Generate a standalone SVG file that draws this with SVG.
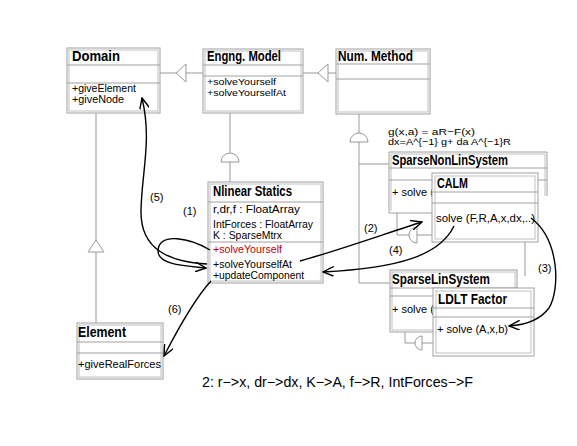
<svg xmlns="http://www.w3.org/2000/svg" width="577" height="446" viewBox="0 0 577 446">
<defs>
<style>
.bx{fill:#fff;stroke:#a0a0a0;stroke-width:1}
.in{fill:none;stroke:#c0c0c0;stroke-width:1}
.sep{stroke:#a0a0a0;stroke-width:1}
.gl{fill:none;stroke:#999;stroke-width:1}
.h{font-family:"Liberation Sans",Arial,sans-serif;font-weight:bold;font-size:14px;fill:#000}
.m{font-family:"Liberation Sans",Arial,sans-serif;font-size:11px;fill:#000}
.s{font-family:"Liberation Sans",Arial,sans-serif;font-size:9.5px;fill:#000}
.lb{font-family:"Liberation Sans",Arial,sans-serif;font-size:11px;fill:#000}
.cv{fill:none;stroke:#000;stroke-width:1.4}
</style>
<marker id="ah" viewBox="0 0 12 10" refX="11" refY="5" markerWidth="12" markerHeight="10" markerUnits="userSpaceOnUse" orient="auto">
<path d="M0,0 L11,5 L0,10" fill="none" stroke="#000" stroke-width="1.4"/>
</marker>
</defs>
<rect width="577" height="446" fill="#fff"/>

<g id="generalizations">
<line class="gl" x1="160" y1="73" x2="176" y2="73"/>
<path class="gl" d="M176,73 L186,64 L186,82 Z"/>
<line class="gl" x1="186" y1="73" x2="203" y2="73"/>
<line class="gl" x1="303" y1="73" x2="318" y2="73"/>
<path class="gl" d="M318,73 L328,64 L328,82 Z"/>
<line class="gl" x1="328" y1="73" x2="336" y2="73"/>
<line class="gl" x1="96" y1="113" x2="96" y2="240"/>
<path class="gl" d="M96,240 L88,252 L104,252 Z"/>
<line class="gl" x1="96" y1="252" x2="96" y2="323"/>
<line class="gl" x1="230" y1="113" x2="230" y2="153"/>
<path class="gl" d="M221,162 A9,9 0 0 1 239,162 Z"/>
<line class="gl" x1="230" y1="162" x2="230" y2="182"/>
<line class="gl" x1="359" y1="114" x2="359" y2="133"/>
<path class="gl" d="M350,142 A9,9 0 0 1 368,142 Z"/>
<line class="gl" x1="359" y1="142" x2="359" y2="283"/>
<line class="gl" x1="359" y1="164" x2="389" y2="164"/>
<line class="gl" x1="359" y1="283" x2="390" y2="283"/>
<path class="gl" d="M397,213 L397,235 L409,235"/>
<path class="gl" d="M417,227 A8,8 0 0 0 417,243 Z"/>
<line class="gl" x1="417" y1="235" x2="432" y2="235"/>
<path class="gl" d="M405,332 L405,343 L415,343"/>
<path class="gl" d="M422,336 A7,7 0 0 0 422,350 Z"/>
<line class="gl" x1="422" y1="343" x2="433" y2="343"/>
<line class="gl" x1="525" y1="242" x2="525" y2="276"/>
</g>

<g id="domain">
<rect class="bx" x="67" y="48" width="93" height="65"/>
<rect class="in" x="69" y="50" width="89" height="61"/>
<line class="sep" x1="67" y1="65" x2="160" y2="65"/>
<line class="sep" x1="67" y1="83" x2="160" y2="83"/>
<text class="h" x="72" y="61" textLength="48" lengthAdjust="spacingAndGlyphs">Domain</text>
<text class="m" x="72" y="92" textLength="64" lengthAdjust="spacingAndGlyphs">+giveElement</text>
<text class="m" x="72" y="103" textLength="52" lengthAdjust="spacingAndGlyphs">+giveNode</text>
</g>

<g id="engng-model">
<rect class="bx" x="203" y="49" width="100" height="64"/>
<rect class="in" x="205" y="51" width="96" height="60"/>
<line class="sep" x1="203" y1="65" x2="303" y2="65"/>
<line class="sep" x1="203" y1="76" x2="303" y2="76"/>
<text class="h" x="207" y="61" textLength="74" lengthAdjust="spacingAndGlyphs">Engng. Model</text>
<text class="s" x="207" y="85" textLength="69" lengthAdjust="spacingAndGlyphs">+solveYourself</text>
<text class="s" x="207" y="96" textLength="79" lengthAdjust="spacingAndGlyphs">+solveYourselfAt</text>
</g>

<g id="num-method">
<rect class="bx" x="336" y="49" width="94" height="65"/>
<rect class="in" x="338" y="51" width="90" height="61"/>
<line class="sep" x1="336" y1="64" x2="430" y2="64"/>
<line class="sep" x1="336" y1="79" x2="430" y2="79"/>
<text class="h" x="338" y="61" textLength="75" lengthAdjust="spacingAndGlyphs">Num. Method</text>
</g>

<g id="formula">
<text class="s" x="388" y="135" textLength="87" lengthAdjust="spacingAndGlyphs">g(x,a) = aR−F(x)</text>
<text class="s" x="388" y="145" textLength="123" lengthAdjust="spacingAndGlyphs">dx=A^{−1} g+ da A^{−1}R</text>
</g>

<g id="sparse-nonlin-system">
<path class="bx" d="M389,213 L389,152 L547,152 L547,196"/>
<path class="in" d="M391,211 L391,154 L545,154 L545,196"/>
<line class="sep" x1="389" y1="168" x2="547" y2="168"/>
<line class="sep" x1="389" y1="180" x2="547" y2="180"/>
<line class="sep" x1="389" y1="213" x2="432" y2="213"/>
<text class="h" x="392" y="165" textLength="116" lengthAdjust="spacingAndGlyphs">SparseNonLinSystem</text>
<text class="m" x="392" y="196">+ solve (</text>
</g>

<g id="calm">
<rect class="bx" x="432" y="173" width="106" height="69"/>
<rect class="in" x="435" y="176" width="100" height="63"/>
<line class="sep" x1="432" y1="192" x2="538" y2="192"/>
<line class="sep" x1="432" y1="203" x2="538" y2="203"/>
<text class="h" x="437" y="188" textLength="31" lengthAdjust="spacingAndGlyphs">CALM</text>
<text class="m" x="436" y="222" textLength="99" lengthAdjust="spacingAndGlyphs">solve (F,R,A,x,dx,..)</text>
</g>

<g id="sparse-lin-system">
<rect class="bx" x="390" y="270" width="127" height="62"/>
<rect class="in" x="392" y="272" width="123" height="58"/>
<line class="sep" x1="390" y1="288" x2="517" y2="288"/>
<line class="sep" x1="390" y1="296" x2="517" y2="296"/>
<text class="h" x="392" y="284" textLength="98" lengthAdjust="spacingAndGlyphs">SparseLinSystem</text>
<text class="m" x="392" y="313">+ solve (</text>
</g>

<g id="ldlt-factor">
<rect class="bx" x="433" y="288" width="101" height="68"/>
<rect class="in" x="436" y="291" width="95" height="62"/>
<line class="sep" x1="433" y1="308" x2="534" y2="308"/>
<line class="sep" x1="433" y1="317" x2="534" y2="317"/>
<text class="h" x="438" y="304" textLength="69" lengthAdjust="spacingAndGlyphs">LDLT Factor</text>
<text class="m" x="437" y="333" textLength="71" lengthAdjust="spacingAndGlyphs">+ solve (A,x,b)</text>
</g>

<g id="nlinear-statics">
<rect class="bx" x="208" y="182" width="115" height="101"/>
<rect class="in" x="210" y="184" width="111" height="97"/>
<line class="sep" x1="208" y1="202" x2="323" y2="202"/>
<line class="sep" x1="208" y1="242" x2="323" y2="242"/>
<text class="h" x="213" y="196" textLength="79" lengthAdjust="spacingAndGlyphs">Nlinear Statics</text>
<text class="m" x="213" y="213" textLength="87" lengthAdjust="spacingAndGlyphs">r,dr,f : FloatArray</text>
<text class="m" x="213" y="228" textLength="100" lengthAdjust="spacingAndGlyphs">IntForces : FloatArray</text>
<text class="m" x="213" y="239" textLength="69" lengthAdjust="spacingAndGlyphs">K : SparseMtrx</text>
<text class="m" x="213" y="253" textLength="69" lengthAdjust="spacingAndGlyphs" style="fill:#c00000">+solveYourself</text>
<text class="m" x="213" y="268" textLength="79" lengthAdjust="spacingAndGlyphs">+solveYourselfAt</text>
<text class="m" x="213" y="279" textLength="91" lengthAdjust="spacingAndGlyphs">+updateComponent</text>
</g>

<g id="element">
<rect class="bx" x="77" y="323" width="86" height="56"/>
<rect class="in" x="79" y="325" width="82" height="52"/>
<line class="sep" x1="77" y1="342" x2="163" y2="342"/>
<line class="sep" x1="77" y1="353" x2="163" y2="353"/>
<text class="h" x="78" y="337" textLength="48" lengthAdjust="spacingAndGlyphs">Element</text>
<text class="m" x="78" y="368" textLength="83" lengthAdjust="spacingAndGlyphs">+giveRealForces</text>
</g>

<g id="connectors">
<path class="cv" marker-end="url(#ah)" d="M210,250 C190,238 160,232 158,250 C157,265 185,266 206,268"/>
<path class="cv" marker-end="url(#ah)" d="M207,264 C170,262 140,250 141,210 C142,170 152,140 142,98"/>
<path class="cv" marker-end="url(#ah)" d="M211,281 C198,295 180,325 164,356"/>
<path class="cv" marker-end="url(#ah)" d="M300,261 C340,250 390,232 422,222"/>
<path class="cv" marker-end="url(#ah)" d="M454,226 C440,255 400,268 323,272"/>
<path class="cv" marker-end="url(#ah)" d="M531,218 C560,240 560,290 549,308 C540,320 525,325 509,326"/>
<text class="lb" x="183" y="215">(1)</text>
<text class="lb" x="150" y="201">(5)</text>
<text class="lb" x="168" y="313">(6)</text>
<text class="lb" x="364" y="232">(2)</text>
<text class="lb" x="389" y="254">(4)</text>
<text class="lb" x="538" y="272">(3)</text>
</g>

<g id="note">
<text x="202" y="387" style="font-family:'Liberation Sans',Arial,sans-serif;font-size:14px" textLength="271" lengthAdjust="spacingAndGlyphs">2: r−&gt;x, dr−&gt;dx, K−&gt;A, f−&gt;R, IntForces−&gt;F</text>
</g>
</svg>
